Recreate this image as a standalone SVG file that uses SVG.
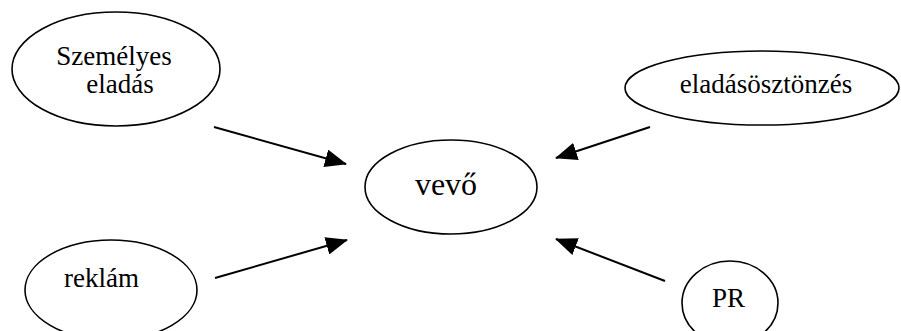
<svg xmlns="http://www.w3.org/2000/svg" width="901" height="331" viewBox="0 0 901 331">
<style>
.n{fill:#fff;stroke:#000;stroke-width:1.6}
.t{font-family:"Liberation Serif","Times New Roman",serif;font-size:27px;fill:#000;text-anchor:middle}
.c{stroke:#000;stroke-width:2;fill:none;marker-end:url(#ah)}
</style>
<defs>
<marker id="ah" viewBox="0 0 22 18" refX="21" refY="9" markerWidth="22" markerHeight="18" markerUnits="userSpaceOnUse" orient="auto">
<path d="M0,0 L22,9 L0,18 z" fill="#000"/>
</marker>
</defs>
<rect width="901" height="331" fill="#fff"/>
<g id="connectors">
<line class="c" x1="214" y1="127" x2="346" y2="164"/>
<line class="c" x1="215" y1="278" x2="347" y2="240"/>
<line class="c" x1="650" y1="127" x2="556" y2="158"/>
<line class="c" x1="665" y1="281" x2="556" y2="239"/>
</g>
<g id="szemelyes">
<ellipse class="n" cx="116" cy="69" rx="104" ry="57"/>
<text class="t" x="114" y="65">Személyes</text>
<text class="t" x="120" y="93">eladás</text>
</g>
<g id="eladasosztonzes">
<ellipse class="n" cx="762" cy="88" rx="137" ry="37"/>
<text class="t" x="766" y="93">eladásösztönzés</text>
</g>
<g id="vevo">
<ellipse class="n" cx="451" cy="187" rx="86" ry="47"/>
<text class="t" x="446" y="195" style="font-size:32px">vevő</text>
</g>
<g id="reklam">
<ellipse class="n" cx="111" cy="290" rx="86" ry="50"/>
<text class="t" x="101.5" y="287">reklám</text>
</g>
<g id="pr">
<ellipse class="n" cx="730" cy="303" rx="48" ry="42"/>
<text class="t" x="728.5" y="307">PR</text>
</g>
</svg>
